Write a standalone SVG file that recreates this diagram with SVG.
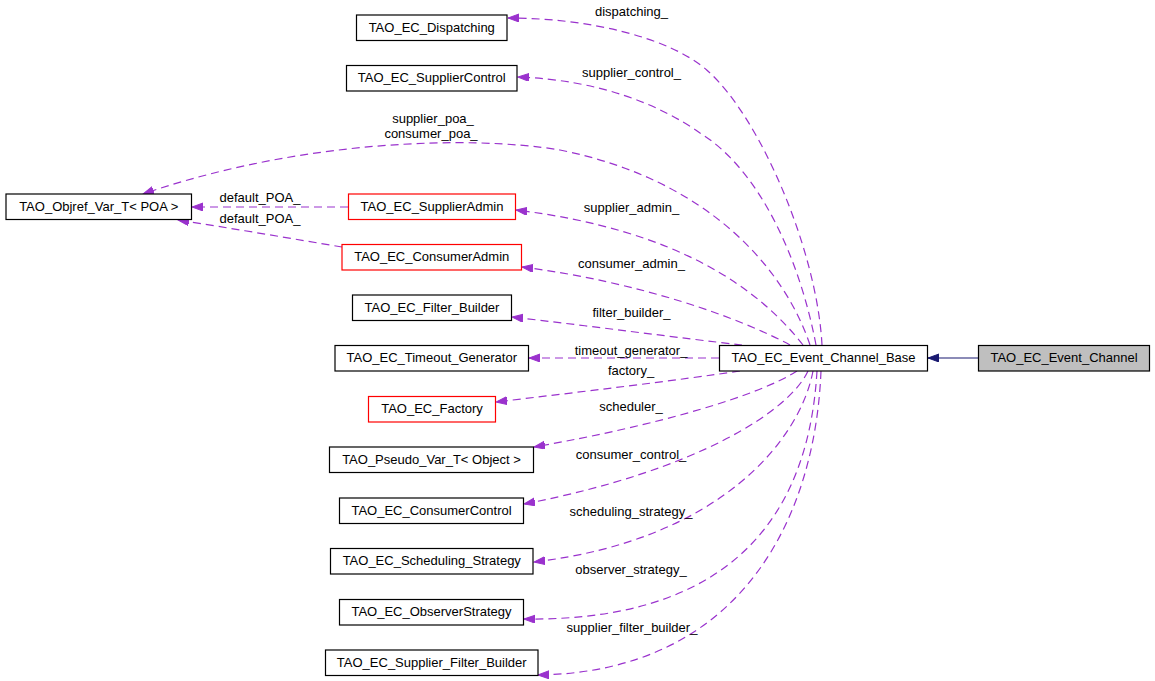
<svg xmlns="http://www.w3.org/2000/svg" width="1155" height="681" viewBox="0 0 1155 681">
<style>
.n rect{fill:#fff;stroke:#000;stroke-width:1.2}
.n.red rect{stroke:#ff0000}
.n.grey rect{fill:#bfbfbf}
text{font-family:"Liberation Sans",Arial,sans-serif;font-size:13px;fill:#000}
.n text{text-anchor:middle}
.e path{fill:none;stroke:#9a32cd;stroke-width:1.2;stroke-dasharray:8,5}
.e path.inh{stroke:#191970;stroke-dasharray:none}
.lbl text{text-anchor:middle}
</style>
<defs>
<marker id="ap" markerUnits="userSpaceOnUse" markerWidth="12" markerHeight="9" refX="11" refY="4" orient="auto">
<path d="M0,0 L11,4 L0,8 z" fill="#9a32cd" stroke="#9a32cd" stroke-width="1" stroke-dasharray="none"/>
</marker>
<marker id="an" markerUnits="userSpaceOnUse" markerWidth="12" markerHeight="9" refX="11" refY="4" orient="auto">
<path d="M0,0 L11,4 L0,8 z" fill="#191970" stroke="#191970" stroke-width="1"/>
</marker>
</defs>
<rect width="1155" height="681" fill="#fff"/>
<g id="edges" class="e">
<path class="inh" d="M978,358 L928,358" marker-end="url(#an)"/>
<path d="M822,345 C817,250 759.5,115.9 706.7,70 C670,38 590,18 508,18" marker-end="url(#ap)"/>
<path d="M816,345 C800,260 760,170 700,133 C660,105 600,80 518,77" marker-end="url(#ap)"/>
<path d="M810,345 C785,270 710,180 560,150 C470,135 300,140 143,194" marker-end="url(#ap)"/>
<path d="M803,345 C760,290 680,230 516,210" marker-end="url(#ap)"/>
<path d="M790,345 C740,318 640,282 522,267" marker-end="url(#ap)"/>
<path d="M742,345 C680,338 590,326 512,317" marker-end="url(#ap)"/>
<path d="M719,358 L529,358" marker-end="url(#ap)"/>
<path d="M740,371 C680,380 580,392 496,402" marker-end="url(#ap)"/>
<path d="M797,371 C760,395 660,425 534,447" marker-end="url(#ap)"/>
<path d="M808,371 C790,410 700,470 524,504" marker-end="url(#ap)"/>
<path d="M813,371 C800,440 720,540 534,562" marker-end="url(#ap)"/>
<path d="M817,371 C810,490 755,622 524,619" marker-end="url(#ap)"/>
<path d="M821,371 C815,520 740,672 538,675" marker-end="url(#ap)"/>
<path d="M348,207 L192,207" marker-end="url(#ap)"/>
<path d="M342,247 C300,240 230,228 178,220" marker-end="url(#ap)"/>
</g>
<g id="labels" class="lbl">
<text x="631.5" y="16">dispatching_</text>
<text x="631.5" y="77">supplier_control_</text>
<text x="433" y="123">supplier_poa_</text>
<text x="431" y="138">consumer_poa_</text>
<text x="260" y="202">default_POA_</text>
<text x="260" y="222.5">default_POA_</text>
<text x="631.5" y="212">supplier_admin_</text>
<text x="631.5" y="268">consumer_admin_</text>
<text x="631.5" y="317">filter_builder_</text>
<text x="631" y="355">timeout_generator_</text>
<text x="631" y="374.5">factory_</text>
<text x="631" y="411">scheduler_</text>
<text x="631" y="459">consumer_control_</text>
<text x="631" y="515.5">scheduling_strategy_</text>
<text x="631" y="574">observer_strategy_</text>
<text x="632" y="632">supplier_filter_builder_</text>
</g>
<g id="n_dispatching" class="n"><rect x="356.5" y="15" width="150.5" height="25.5"/><text x="431.75" y="31.8">TAO_EC_Dispatching</text></g>
<g id="n_suppliercontrol" class="n"><rect x="346.5" y="65.5" width="170.5" height="25.5"/><text x="431.75" y="82.3">TAO_EC_SupplierControl</text></g>
<g id="n_objref" class="n"><rect x="6" y="194" width="185.5" height="25.5"/><text x="98.75" y="210.8">TAO_Objref_Var_T&lt; POA &gt;</text></g>
<g id="n_supplieradmin" class="n red"><rect x="348.5" y="194" width="167" height="25.5"/><text x="432" y="210.8">TAO_EC_SupplierAdmin</text></g>
<g id="n_consumeradmin" class="n red"><rect x="342" y="244.5" width="179.5" height="25.5"/><text x="431.75" y="261.3">TAO_EC_ConsumerAdmin</text></g>
<g id="n_filterbuilder" class="n"><rect x="352.5" y="295" width="159" height="25.5"/><text x="432" y="311.8">TAO_EC_Filter_Builder</text></g>
<g id="n_timeout" class="n"><rect x="335" y="345.5" width="193.5" height="25.5"/><text x="431.75" y="362.3">TAO_EC_Timeout_Generator</text></g>
<g id="n_factory" class="n red"><rect x="368.5" y="396.5" width="127" height="25.5"/><text x="432" y="413.3">TAO_EC_Factory</text></g>
<g id="n_pseudovar" class="n"><rect x="329.5" y="447" width="204" height="25.5"/><text x="431.5" y="463.8">TAO_Pseudo_Var_T&lt; Object &gt;</text></g>
<g id="n_consumercontrol" class="n"><rect x="339.5" y="498" width="184" height="25.5"/><text x="431.5" y="514.8">TAO_EC_ConsumerControl</text></g>
<g id="n_scheduling" class="n"><rect x="330.5" y="548.5" width="202.5" height="25.5"/><text x="431.75" y="565.3">TAO_EC_Scheduling_Strategy</text></g>
<g id="n_observer" class="n"><rect x="339.5" y="599.5" width="184" height="25.5"/><text x="431.5" y="616.3">TAO_EC_ObserverStrategy</text></g>
<g id="n_supplierfilter" class="n"><rect x="325.5" y="650" width="212.5" height="25.5"/><text x="431.75" y="666.8">TAO_EC_Supplier_Filter_Builder</text></g>
<g id="n_ecbase" class="n"><rect x="719.5" y="345.5" width="208" height="25.5"/><text x="823.5" y="362.3">TAO_EC_Event_Channel_Base</text></g>
<g id="n_ec" class="n grey"><rect x="978.5" y="345.5" width="171" height="25.5"/><text x="1064" y="362.3">TAO_EC_Event_Channel</text></g>
</svg>
